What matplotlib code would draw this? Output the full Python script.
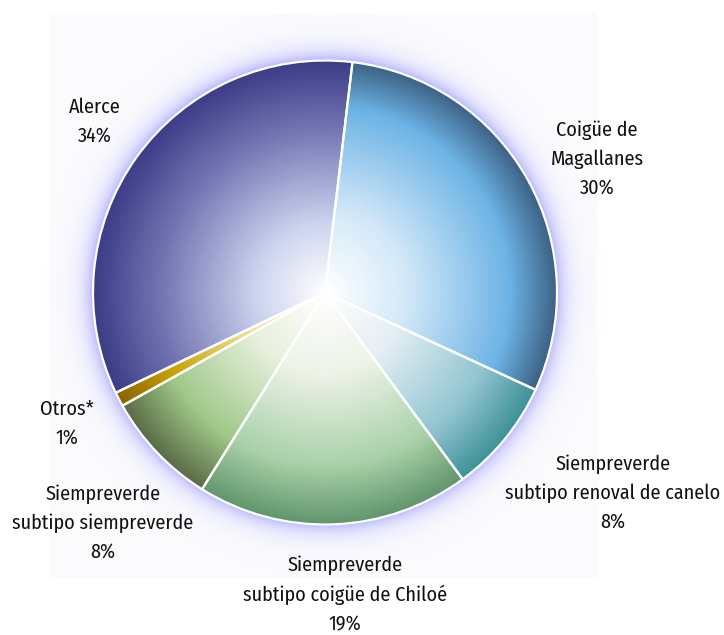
import numpy as np
import matplotlib
matplotlib.use("Agg")
import matplotlib.pyplot as plt
from matplotlib import font_manager
from matplotlib.colors import LinearSegmentedColormap
from matplotlib.patches import Rectangle

# data
labels = ["Coigüe de\nMagallanes", "Siempreverde\nsubtipo renoval de canelo",
          "Siempreverde\nsubtipo coigüe de Chiloé", "Siempreverde\nsubtipo siempreverde",
          "Otros*", "Alerce"]
values = [30, 8, 19, 8, 1, 34]

# gradient stops per slice (centre -> rim)
stops = [
    [(0.0, "#ffffff"), (0.35, "#d3e9f8"), (0.8, "#6cb3e5"), (1.0, "#3d6285")],
    [(0.0, "#ffffff"), (0.35, "#e4eef4"), (0.75, "#93c5d2"), (1.0, "#3f9299")],
    [(0.0, "#ffffff"), (0.35, "#eef3e8"), (0.75, "#a9d1a9"), (1.0, "#62966c")],
    [(0.0, "#ffffff"), (0.35, "#e8f0de"), (0.75, "#a0c98a"), (1.0, "#5b6c46")],
    [(0.0, "#ffffff"), (0.35, "#f2e2a0"), (0.75, "#c9a000"), (1.0, "#8a6400")],
    [(0.0, "#ffffff"), (0.3, "#ccd3ee"), (0.7, "#7676b4"), (1.0, "#3c3c88")],
]

# label anchor points in pixels (x, y from top)
label_pos = [(597, 159), (613, 493), (345, 595), (103, 523), (67, 424), (95, 122)]

W, H = 724, 635
cx, cy, R = 325, H - 292.5, 232

names = {f.name for f in font_manager.fontManager.ttflist}
fam, fsize = "DejaVu Sans", 11.5
for cand, size in [("Fira Sans Condensed", 14.5), ("Asap Condensed", 14.2),
                   ("Roboto Condensed", 14.0), ("Open Sans Condensed", 14.0),
                   ("PT Sans Narrow", 14.5), ("Archivo Narrow", 14.0),
                   ("Liberation Sans Narrow", 13.8)]:
    if cand in names:
        fam, fsize = cand, size
        break

fig = plt.figure(figsize=(W / 100, H / 100), dpi=100)
ax = fig.add_axes([0, 0, 1, 1])
ax.set_xlim(0, W)
ax.set_ylim(0, H)
ax.axis("off")

# faint backdrop panel
ax.add_patch(Rectangle((50, H - 578), 547, 565, facecolor="#fbfbfd",
                       edgecolor="none", zorder=0))

# soft violet glow round the pie
g = R + 60
n = 500
xs = np.linspace(cx - g, cx + g, n)
ys = np.linspace(cy - g, cy + g, n)
X, Y = np.meshgrid(xs, ys)
d = np.hypot(X - cx, Y - cy) - R
glow = np.zeros((n, n, 4))
glow[..., 0] = 0.52
glow[..., 1] = 0.52
glow[..., 2] = 1.0
glow[..., 3] = np.where(d > -3, 0.6 * np.exp(-np.clip(d, 0, None) / 10.0), 0)
ax.imshow(glow, extent=(cx - g, cx + g, cy - g, cy + g), origin="lower",
          zorder=1, interpolation="bilinear")

wedges, _ = ax.pie(values, startangle=83.2, counterclock=False,
                   center=(cx, cy), radius=R,
                   wedgeprops=dict(edgecolor="white", linewidth=1.6))

xs = np.linspace(cx - R, cx + R, 500)
ys = np.linspace(cy - R, cy + R, 500)
X, Y = np.meshgrid(xs, ys)
rr = np.clip(np.hypot(X - cx, Y - cy) / R, 0, 1)

for w, st in zip(wedges, stops):
    cmap = LinearSegmentedColormap.from_list("s", st)
    img = cmap(rr)
    im = ax.imshow(img, extent=(cx - R, cx + R, cy - R, cy + R), origin="lower",
                   zorder=2, interpolation="bilinear")
    im.set_clip_path(w)
    w.set_facecolor("none")
    w.set_zorder(3)

ax.set_xlim(0, W)
ax.set_ylim(0, H)
ax.set_aspect("auto")

for lab, v, (px, py) in zip(labels, values, label_pos):
    ax.text(px, H - py, f"{lab}\n{v}%", ha="center", va="center",
            fontsize=fsize, family=fam, color="#111111", linespacing=1.6,
            zorder=5)

fig.savefig("out.png", dpi=100)
